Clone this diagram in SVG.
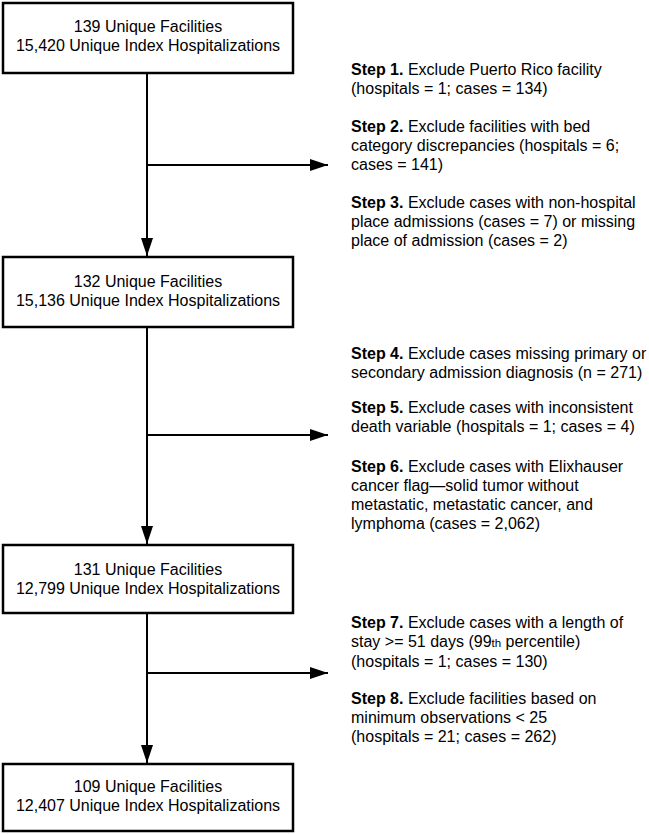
<svg xmlns="http://www.w3.org/2000/svg" width="649" height="834" viewBox="0 0 649 834">
<defs>
<style>
.box{fill:#fff;stroke:#000;stroke-width:2.5}
.ln{fill:none;stroke:#000;stroke-width:2}
.bt{font-family:"Liberation Sans",Arial,sans-serif;font-size:16px;fill:#000;text-anchor:middle}
.st{font-family:"Liberation Sans",Arial,sans-serif;font-size:16px;fill:#000}
.b{font-weight:bold}
.sm{font-size:11.5px}
</style>
<marker id="ah" viewBox="0 0 18 12" refX="18" refY="6" markerWidth="18" markerHeight="12" markerUnits="userSpaceOnUse" orient="auto">
<path d="M0,0 L18,6 L0,12 Z" fill="#000"/>
</marker>
</defs>
<rect width="649" height="834" fill="#fff"/>
<g id="connectors">
<line class="ln" x1="147" y1="73" x2="147" y2="256" marker-end="url(#ah)"/>
<line class="ln" x1="147" y1="165" x2="328" y2="165" marker-end="url(#ah)"/>
<line class="ln" x1="147" y1="327" x2="147" y2="544" marker-end="url(#ah)"/>
<line class="ln" x1="147" y1="435" x2="328" y2="435" marker-end="url(#ah)"/>
<line class="ln" x1="147" y1="613" x2="147" y2="763" marker-end="url(#ah)"/>
<line class="ln" x1="147" y1="673" x2="328" y2="673" marker-end="url(#ah)"/>
</g>
<g id="box1">
<rect class="box" x="3" y="3" width="290" height="70"/>
<text class="bt" x="148" y="32">139 Unique Facilities</text>
<text class="bt" x="148" y="51">15,420 Unique Index Hospitalizations</text>
</g>
<g id="box2">
<rect class="box" x="3" y="257" width="290" height="70"/>
<text class="bt" x="148" y="287">132 Unique Facilities</text>
<text class="bt" x="148" y="306">15,136 Unique Index Hospitalizations</text>
</g>
<g id="box3">
<rect class="box" x="3" y="545" width="290" height="68"/>
<text class="bt" x="148" y="575">131 Unique Facilities</text>
<text class="bt" x="148" y="594">12,799 Unique Index Hospitalizations</text>
</g>
<g id="box4">
<rect class="box" x="3" y="764" width="290" height="67"/>
<text class="bt" x="148" y="792">109 Unique Facilities</text>
<text class="bt" x="148" y="811">12,407 Unique Index Hospitalizations</text>
</g>
<g id="steps1-3">
<text class="st" x="351" y="75"><tspan class="b">Step 1.</tspan> Exclude Puerto Rico facility</text>
<text class="st" x="351" y="94">(hospitals = 1; cases = 134)</text>
<text class="st" x="351" y="132"><tspan class="b">Step 2.</tspan> Exclude facilities with bed</text>
<text class="st" x="351" y="151">category discrepancies (hospitals = 6;</text>
<text class="st" x="351" y="170">cases = 141)</text>
<text class="st" x="351" y="208"><tspan class="b">Step 3.</tspan> Exclude cases with non-hospital</text>
<text class="st" x="351" y="227">place admissions (cases = 7) or missing</text>
<text class="st" x="351" y="246">place of admission (cases = 2)</text>
</g>
<g id="steps4-6">
<text class="st" x="351" y="359"><tspan class="b">Step 4.</tspan> Exclude cases missing primary or</text>
<text class="st" x="351" y="378">secondary admission diagnosis (n = 271)</text>
<text class="st" x="351" y="413"><tspan class="b">Step 5.</tspan> Exclude cases with inconsistent</text>
<text class="st" x="351" y="432">death variable (hospitals = 1; cases = 4)</text>
<text class="st" x="351" y="472"><tspan class="b">Step 6.</tspan> Exclude cases with Elixhauser</text>
<text class="st" x="351" y="491">cancer flag—solid tumor without</text>
<text class="st" x="351" y="510">metastatic, metastatic cancer, and</text>
<text class="st" x="351" y="529">lymphoma (cases = 2,062)</text>
</g>
<g id="steps7-8">
<text class="st" x="351" y="628"><tspan class="b">Step 7.</tspan> Exclude cases with a length of</text>
<text class="st" x="351" y="647">stay &gt;= 51 days (99<tspan class="sm">th</tspan> percentile)</text>
<text class="st" x="351" y="667">(hospitals = 1; cases = 130)</text>
<text class="st" x="351" y="704"><tspan class="b">Step 8.</tspan> Exclude facilities based on</text>
<text class="st" x="351" y="723">minimum observations &lt; 25</text>
<text class="st" x="351" y="742">(hospitals = 21; cases = 262)</text>
</g>
</svg>
